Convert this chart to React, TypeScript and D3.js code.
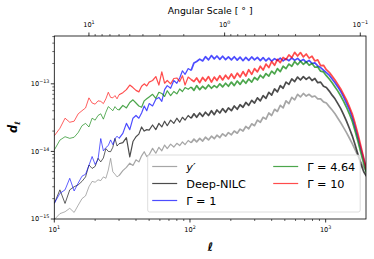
import { useEffect, useRef } from "react"
import * as d3 from "d3"

// multipole grid shared by all spectra
const ELL = [
  10, 11, 12, 13, 14, 15, 16, 17, 18, 19, 20,
  21, 22, 23, 24, 25, 26, 27, 28, 29, 30,
  32, 34, 36, 38, 40, 42, 44, 46, 48, 50,
  53, 56, 59, 62, 65, 68, 72, 76, 80, 84, 88, 92, 97,
  102, 107, 112, 118, 124, 130, 137, 144, 151, 158, 166, 174, 183, 192,
  202, 212, 223, 234, 246, 258, 271, 285, 299,
  314, 330, 346, 363, 381, 400, 420, 441, 463, 486,
  510, 536, 563, 591, 621, 652, 685, 719, 755, 793, 833, 874, 918, 964,
  1012, 1063, 1116, 1172, 1230, 1292, 1356, 1424, 1495, 1570, 1648, 1731, 1817, 1908, 2000,
]

// d_ell values, in units of 1e-15
const YPRIME = [
  0.98, 1.2, 1.28, 1.44, 1.25, 1.6, 2.0, 2.2, 3.0, 3.6, 3.5,
  3.8, 3.7, 4.2, 4.0, 5.3, 7.9, 5.0, 4.6, 4.2, 4.4,
  5.2, 5.8, 6.7, 6.2, 7.5, 7.0, 8.6, 9.9, 8.4, 8.9,
  11.1, 9.4, 11.5, 10.2, 12.4, 11, 12.8, 11.6, 13.2, 12.2, 13.8, 12.6, 14.5,
  13.4, 15.2, 13.8, 15.6, 14.2, 16.2, 14.8, 16.8, 15.4, 17.4, 16, 18.2, 16.8, 19,
  17.6, 20, 18.6, 21.4, 20, 23.4, 21.6, 25.6, 24,
  29, 27, 32, 30, 37, 34, 42, 39, 48, 44,
  56, 51, 63, 58, 70, 64, 72, 66, 70, 64, 66, 60, 60, 54,
  52, 46, 41, 36, 31, 26.5, 22.5, 19, 15.8, 13, 10.6, 8.6, 7, 5.8, 5.0,
]

const DEEP_NILC = [
  1.7, 2.7, 1.7, 2.7, 3.0, 3.2, 3.6, 4.2, 6.3, 5.6, 6.0,
  7.9, 7.0, 8.0, 11, 10, 9.9, 11.5, 15.6, 12, 13,
  13.5, 16, 8.3, 14, 16.5, 18, 23, 20, 21, 20.7,
  24.6, 21, 26, 23, 28, 24, 29, 26, 31, 27, 32, 29, 34,
  31, 36, 32, 37, 33, 38, 34, 40, 35, 41, 37, 43, 38, 44,
  40, 47, 42, 49, 45, 53, 48, 57, 52,
  62, 56, 67, 61, 75, 68, 84, 76, 94, 86,
  106, 98, 118, 108, 126, 114, 128, 116, 126, 112, 120, 104, 106, 92,
  88, 78, 68, 60, 51, 43, 35, 28, 22, 17, 12.5, 9, 6.5, 5, 4.3,
]

const GAMMA_1 = [
  1.7, 2.4, 2.7, 4.0, 2.6, 3.4, 4.3, 4.6, 6.2, 8.4, 6.4,
  7.6, 15.5, 10.2, 11.4, 12.2, 14.8, 12.6, 15.4, 16.8, 15.6,
  18.5, 26, 21, 31, 34, 31, 37, 47, 40, 51,
  47, 59, 63, 55, 82, 94, 86, 112, 102, 122, 156, 138, 168,
  158, 204, 214, 232, 218, 252, 226, 262, 234, 258, 230, 256, 228, 250,
  226, 252, 224, 248, 220, 246, 222, 250, 226,
  246, 220, 244, 218, 240, 216, 236, 222, 240, 218,
  236, 220, 242, 222, 238, 216, 230, 208, 222, 200, 204, 184, 174, 160,
  146, 134, 118, 104, 90, 77, 64, 52, 42, 32, 23, 16, 11, 7.6, 5.2,
]

const GAMMA_464 = [
  10.5, 14.7, 16.5, 15.6, 16.2, 19, 24, 26, 23, 31, 29,
  34, 36, 30, 38, 46, 43, 40, 46, 42, 41,
  48, 44, 53, 58, 52, 47, 45, 56, 60, 64,
  70, 61, 75, 72, 65, 79, 67, 77, 71, 84, 77, 88, 83,
  90, 80, 94, 82, 92, 84, 96, 86, 94, 88, 100, 90, 102, 92,
  106, 94, 110, 98, 114, 102, 118, 106, 124,
  114, 134, 122, 142, 130, 154, 140, 168, 152, 182,
  168, 196, 182, 214, 192, 216, 194, 212, 188, 200, 176, 178, 154, 150,
  132, 118, 104, 90, 78, 66, 55, 45, 36, 28, 20, 14, 9.5, 6.6, 4.8,
]

const GAMMA_10 = [
  17, 22, 31, 27, 28, 36, 40, 44, 62, 52, 50,
  56, 55, 51, 60, 75, 63, 62, 67, 60, 69,
  74, 82, 96, 88, 80, 76, 92, 100, 93, 106,
  112, 128, 96, 150, 102, 112, 100, 120, 122, 108, 132, 96, 126,
  116, 108, 122, 104, 124, 110, 128, 106, 126, 112, 132, 114, 134, 118,
  140, 120, 144, 126, 152, 130, 162, 138, 168,
  150, 182, 160, 196, 174, 214, 188, 230, 206, 246,
  228, 268, 244, 292, 258, 290, 250, 276, 240, 256, 218, 226, 186, 188,
  162, 148, 130, 114, 98, 84, 70, 58, 46, 36, 26, 18, 12, 8, 5.4,
]

const SERIES = [
  { name: "y′", values: YPRIME, color: "rgba(128,128,128,0.7)", italic: true },
  { name: "Deep-NILC", values: DEEP_NILC, color: "rgba(0,0,0,0.7)" },
  { name: "Γ = 1", values: GAMMA_1, color: "rgba(0,0,255,0.7)" },
  { name: "Γ = 4.64", values: GAMMA_464, color: "rgba(0,128,0,0.7)" },
  { name: "Γ = 10", values: GAMMA_10, color: "rgba(255,0,0,0.7)" },
]

const X_TICKS = [10, 100, 1000]
const X_TICK_EXP = ["1", "2", "3"]
const Y_TICKS = [1e-15, 1e-14, 1e-13]
const Y_TICK_EXP = ["−15", "−14", "−13"]
const ANG_TICKS = [10, 1, 0.1]
const ANG_TICK_EXP = ["1", "0", "−1"]

const FONT = "DejaVu Sans, sans-serif"

export default function App() {
  const svgRef = useRef<SVGSVGElement | null>(null)

  useEffect(() => {
    document.body.style.margin = "0"
    const svg = d3.select(svgRef.current)
    svg.selectAll("*").remove()

    const width = 374
    const height = 259
    const margin = { left: 54.3, right: 8, top: 36, bottom: 40 }
    const innerW = width - margin.left - margin.right
    const innerH = height - margin.top - margin.bottom

    const x = d3.scaleLog().domain([10, 1983]).range([0, innerW])
    const y = d3.scaleLog().domain([1e-15, 5.1e-13]).range([innerH, 0])

    const g = svg.append("g").attr("transform", `translate(${margin.left},${margin.top})`)

    svg.append("defs").append("clipPath").attr("id", "plot-clip")
      .append("rect").attr("width", innerW).attr("height", innerH)

    const lines = g.append("g").attr("clip-path", "url(#plot-clip)")
    const line = d3.line<[number, number]>()
      .x(d => x(d[0]))
      .y(d => y(d[1] * 1e-15))

    // noise gets denser at high ell in the original, so the stroke thickens there
    const segments = [
      { from: 0, to: 20, w: 0.9 },
      { from: 20, to: 44, w: 1.2 },
      { from: 44, to: ELL.length - 1, w: 1.7 },
    ]

    SERIES.forEach(s => {
      const pts: [number, number][] = ELL.map((l, i) => [l, s.values[i]])
      segments.forEach(seg => {
        lines.append("path")
          .attr("d", line(pts.slice(seg.from, seg.to + 1)))
          .attr("fill", "none")
          .attr("stroke", s.color)
          .attr("stroke-width", seg.w)
          .attr("stroke-linejoin", "round")
      })
    })

    // ── ticks ─────────────────────────────────────────
    const tickFont = 6.6
    const label10 = (sel: any, exp: string) => {
      sel.append("tspan").text("10")
      sel.append("tspan").attr("dy", -3).attr("font-size", 4.8).text(exp)
    }

    // bottom
    const minorX: number[] = []
    ;[10, 100, 1000].forEach(d => { for (let k = 2; k <= 9; k++) if (d * k <= 1983) minorX.push(d * k) })
    minorX.forEach(v => {
      g.append("line").attr("x1", x(v)).attr("x2", x(v)).attr("y1", innerH).attr("y2", innerH + 2)
        .attr("stroke", "#000").attr("stroke-width", 0.6)
    })
    X_TICKS.forEach((v, i) => {
      g.append("line").attr("x1", x(v)).attr("x2", x(v)).attr("y1", innerH).attr("y2", innerH + 3.5)
        .attr("stroke", "#000").attr("stroke-width", 0.8)
      const t = g.append("text").attr("x", x(v)).attr("y", innerH + 13)
        .attr("text-anchor", "middle").attr("font-size", tickFont).attr("font-family", FONT)
      label10(t, X_TICK_EXP[i])
    })

    // left
    const minorY: number[] = []
    ;[1e-15, 1e-14, 1e-13].forEach(d => { for (let k = 2; k <= 9; k++) if (d * k <= 5.1e-13) minorY.push(d * k) })
    minorY.forEach(v => {
      g.append("line").attr("x1", 0).attr("x2", -2).attr("y1", y(v)).attr("y2", y(v))
        .attr("stroke", "#000").attr("stroke-width", 0.6)
    })
    Y_TICKS.forEach((v, i) => {
      g.append("line").attr("x1", 0).attr("x2", -3.5).attr("y1", y(v)).attr("y2", y(v))
        .attr("stroke", "#000").attr("stroke-width", 0.8)
      const t = g.append("text").attr("x", -5).attr("y", y(v) + 2.4)
        .attr("text-anchor", "end").attr("font-size", tickFont).attr("font-family", FONT)
      label10(t, Y_TICK_EXP[i])
    })

    // top: angular scale in degrees, theta = 180 / ell
    const minorAng: number[] = []
    ;[1, 0.1, 0.01].forEach(d => { for (let k = 2; k <= 9; k++) minorAng.push(d * k) })
    minorAng.forEach(a => {
      const l = 180 / a
      if (l < 10 || l > 1983) return
      g.append("line").attr("x1", x(l)).attr("x2", x(l)).attr("y1", 0).attr("y2", -2)
        .attr("stroke", "#000").attr("stroke-width", 0.6)
    })
    ANG_TICKS.forEach((a, i) => {
      const l = 180 / a
      g.append("line").attr("x1", x(l)).attr("x2", x(l)).attr("y1", 0).attr("y2", -3.5)
        .attr("stroke", "#000").attr("stroke-width", 0.8)
      const t = g.append("text").attr("x", x(l)).attr("y", -9)
        .attr("text-anchor", "middle").attr("font-size", tickFont).attr("font-family", FONT)
      label10(t, ANG_TICK_EXP[i])
    })

    // frame
    g.append("rect").attr("width", innerW).attr("height", innerH)
      .attr("fill", "none").attr("stroke", "#000").attr("stroke-width", 0.8)

    // axis labels
    svg.append("text").attr("x", margin.left + innerW / 2).attr("y", 14)
      .attr("text-anchor", "middle").attr("font-size", 9.3).attr("font-family", FONT)
      .text("Angular Scale [ ° ]")

    svg.append("text").attr("x", margin.left + innerW / 2).attr("y", 251)
      .attr("text-anchor", "middle").attr("font-size", 11.5).attr("font-family", FONT)
      .attr("font-style", "italic").attr("font-weight", "bold").text("ℓ")

    const yl = svg.append("text").attr("transform", `translate(17,127) rotate(-90)`)
      .attr("text-anchor", "middle").attr("font-size", 11.5).attr("font-family", FONT)
      .attr("font-style", "italic").attr("font-weight", "bold")
    yl.append("tspan").text("d")
    yl.append("tspan").attr("dy", 2.5).attr("font-size", 7.5).text("ℓ")

    // ── legend ────────────────────────────────────────
    const lg = svg.append("g").attr("transform", "translate(147.7,155)")
    lg.append("rect").attr("width", 212.5).attr("height", 57).attr("rx", 2)
      .attr("fill", "rgba(255,255,255,0.8)").attr("stroke", "#d4d4d4").attr("stroke-width", 0.8)
    SERIES.forEach((s, i) => {
      const col = i < 3 ? 0 : 1
      const row = i < 3 ? i : i - 3
      const lx = col === 0 ? 4.5 : 125.5
      const ly = 11.5 + row * 17
      lg.append("line").attr("x1", lx).attr("x2", lx + 25).attr("y1", ly).attr("y2", ly)
        .attr("stroke", s.color).attr("stroke-width", 1.2)
      lg.append("text").attr("x", lx + 34).attr("y", ly + 4)
        .attr("font-size", 11.3).attr("font-family", FONT)
        .attr("font-style", s.italic ? "italic" : "normal")
        .text(s.name)
    })
  }, [])

  return (
    <svg ref={svgRef} width={374} height={259}
      style={{ position: "absolute", left: 0, top: 0, background: "#fff" }} />
  )
}
